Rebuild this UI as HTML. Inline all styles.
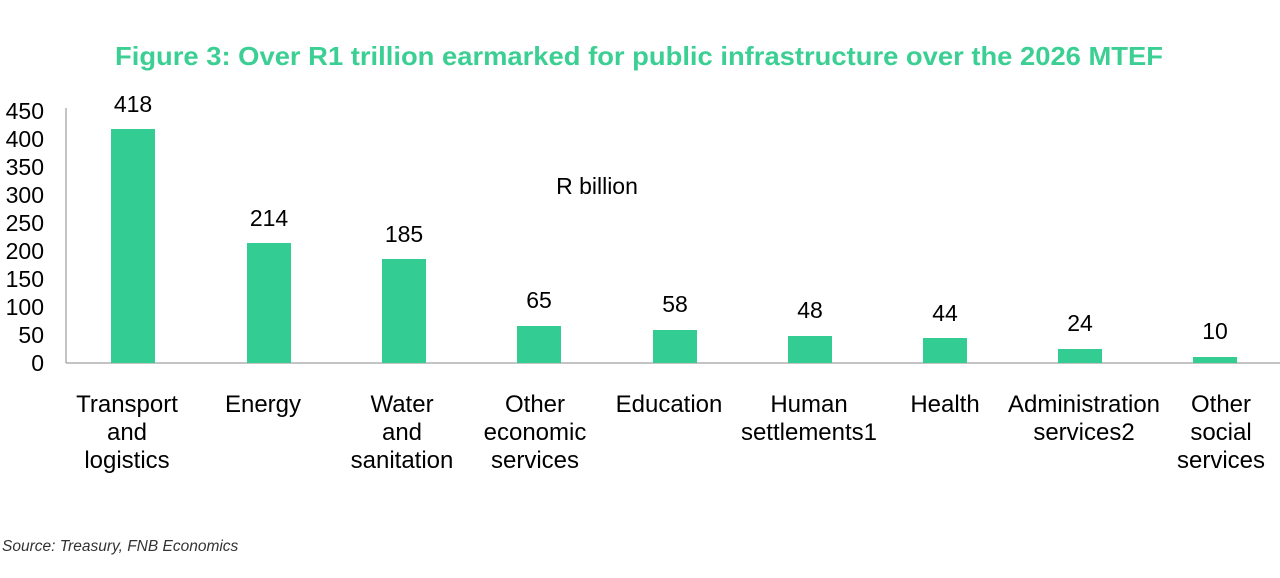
<!DOCTYPE html>
<html><head><meta charset="utf-8"><style>
body{margin:0;background:#fff;width:1280px;height:573px;overflow:hidden}
svg text{font-family:"Liberation Sans",sans-serif}
</style></head><body>
<svg width="1280" height="573" xmlns="http://www.w3.org/2000/svg">
<text x="115" y="65" font-size="26" font-weight="bold" fill="#3ccf93" textLength="1048" lengthAdjust="spacingAndGlyphs">Figure 3: Over R1 trillion earmarked for public infrastructure over the 2026 MTEF</text>
<g font-size="23" fill="#000" text-anchor="end">
<text x="44" y="371">0</text><text x="44" y="343">50</text><text x="44" y="315">100</text><text x="44" y="287">150</text><text x="44" y="259">200</text><text x="44" y="231">250</text><text x="44" y="203">300</text><text x="44" y="175">350</text><text x="44" y="147">400</text><text x="44" y="119">450</text>
</g>
<line x1="66" y1="108" x2="66" y2="363" stroke="#888" stroke-width="1"/>
<line x1="66" y1="363" x2="1280" y2="363" stroke="#888" stroke-width="1"/>
<text x="597" y="194" font-size="23" text-anchor="middle">R billion</text>
<g fill="#33cc93">
<rect x="111" y="129" width="44" height="234"/>
<rect x="247" y="243" width="44" height="120"/>
<rect x="382" y="259" width="44" height="104"/>
<rect x="517" y="326" width="44" height="37"/>
<rect x="653" y="330" width="44" height="33"/>
<rect x="788" y="336" width="44" height="27"/>
<rect x="923" y="338" width="44" height="25"/>
<rect x="1058" y="349" width="44" height="14"/>
<rect x="1193" y="357" width="44" height="6"/>
</g>
<g font-size="23" text-anchor="middle">
<text x="133" y="112">418</text><text x="269" y="226">214</text><text x="404" y="242">185</text><text x="539" y="308">65</text><text x="675" y="312">58</text><text x="810" y="318">48</text><text x="945" y="321">44</text><text x="1080" y="331">24</text><text x="1215" y="339">10</text>
</g>
<g font-size="24" text-anchor="middle">
<text x="127" y="412">Transport</text><text x="127" y="440">and</text><text x="127" y="468">logistics</text>
<text x="263" y="412">Energy</text>
<text x="402" y="412">Water</text><text x="402" y="440">and</text><text x="402" y="468">sanitation</text>
<text x="535" y="412">Other</text><text x="535" y="440">economic</text><text x="535" y="468">services</text>
<text x="669" y="412">Education</text>
<text x="809" y="412">Human</text><text x="809" y="440">settlements1</text>
<text x="945" y="412">Health</text>
<text x="1084" y="412">Administration</text><text x="1084" y="440">services2</text>
<text x="1221" y="412">Other</text><text x="1221" y="440">social</text><text x="1221" y="468">services</text>
</g>
<text x="2" y="551" font-size="15.5" font-style="italic" fill="#333">Source: Treasury, FNB Economics</text>
</svg>
</body></html>
